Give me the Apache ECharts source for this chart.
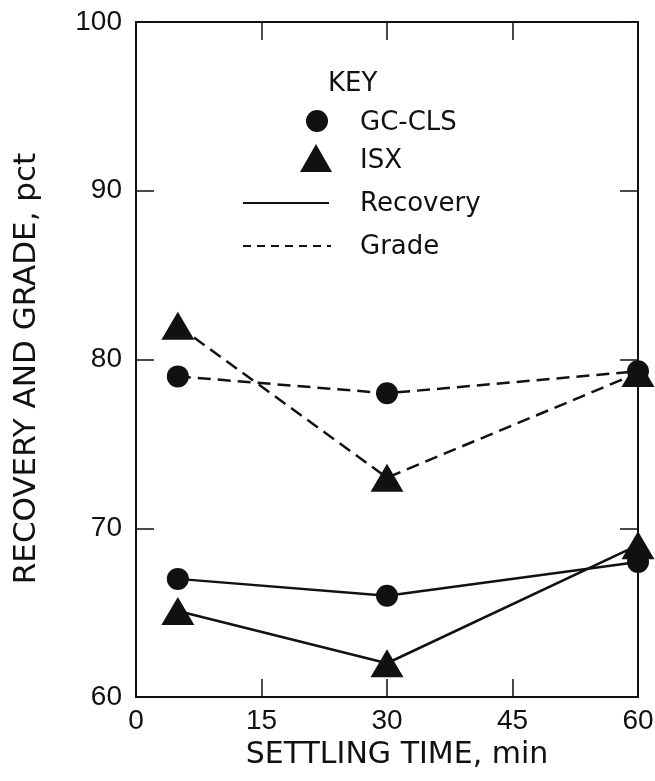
<!DOCTYPE html>
<html>
<head>
<meta charset="utf-8">
<title>Recovery and grade vs settling time</title>
<script src="https://cdn.jsdelivr.net/npm/echarts@6.0.0/dist/echarts.min.js"></script>
<style>
  html, body { margin: 0; padding: 0; background: #fff; }
  #chart { width: 655px; height: 781px; }
</style>
</head>
<body>
<div id="chart"></div>
<script>
// ----------------------
// Dados
// ----------------------
const settlingTime = [5, 30, 60];
const gcclsGrade = [79, 78, 79.3];
const isxGrade = [82, 73, 79.2];
const gcclsRecovery = [67, 66, 68];
const isxRecovery = [65.1, 62, 69];

const xTicks = [0, 15, 30, 45, 60];
const yTicks = [60, 70, 80, 90, 100];

const INK = '#111';
const FONT = '"Liberation Sans", Arial, Helvetica, sans-serif';
const WIDE = '"DejaVu Sans", Verdana, sans-serif';   // títulos e legenda (texto mais espaçado)

// pares [x, y] para o eixo de valores
const pairs = ys => settlingTime.map((t, i) => [t, ys[i]]);

function lineSeries(name, ys, symbol, size, dashed) {
  return {
    name: name,
    type: 'line',
    data: pairs(ys),
    symbol: symbol,
    symbolSize: size,
    clip: false,
    lineStyle: { color: INK, width: 2.5, type: dashed ? [13, 7] : 'solid' },
    itemStyle: { color: INK },
    z: 3
  };
}

function axisCommon() {
  return {
    axisLine: { show: true, onZero: false, lineStyle: { color: INK, width: 2 } },
    axisTick: { show: true, inside: true, length: 18, lineStyle: { color: INK, width: 1.5 } },
    splitLine: { show: false }
  };
}

// ----------------------
// Gráfico
// ----------------------
function initChart() {
  const chart = echarts.init(document.getElementById('chart'));
  const xMin = xTicks[0], xMax = xTicks[xTicks.length - 1];
  const yMin = yTicks[0], yMax = yTicks[yTicks.length - 1];

  chart.setOption({
    animation: false,
    textStyle: { fontFamily: FONT },
    grid: { left: 136, right: 17, top: 22, bottom: 84, containLabel: false, outerBoundsMode: 'none' },
    xAxis: [
      Object.assign(axisCommon(), {
        type: 'value', position: 'bottom', min: xMin, max: xMax, interval: 15,
        name: 'SETTLING TIME, min', nameLocation: 'middle', nameGap: 38,
        nameTextStyle: { color: INK, fontSize: 30, fontFamily: WIDE, padding: [0, 0, 0, 20] },
        axisLabel: { color: INK, fontSize: 28, fontFamily: FONT, margin: 10,
          formatter: v => xTicks.includes(v) ? String(v) : '' }
      }),
      Object.assign(axisCommon(), {
        type: 'value', position: 'top', min: xMin, max: xMax, interval: 15,
        axisLabel: { show: false }
      })
    ],
    yAxis: [
      Object.assign(axisCommon(), {
        type: 'value', position: 'left', min: yMin, max: yMax, interval: 10,
        name: 'RECOVERY AND GRADE, pct', nameLocation: 'middle', nameGap: 94,
        nameTextStyle: { color: INK, fontSize: 31, fontFamily: WIDE, padding: [0, 18, 0, 0] },
        axisLabel: { color: INK, fontSize: 28, fontFamily: FONT, margin: 14,
          formatter: v => yTicks.includes(v) ? String(v) : '' }
      }),
      Object.assign(axisCommon(), {
        type: 'value', position: 'right', min: yMin, max: yMax, interval: 10,
        axisLabel: { show: false }
      })
    ],
    tooltip: { trigger: 'item' },
    series: [
      lineSeries('GC-CLS Grade', gcclsGrade, 'circle', 22, true),
      lineSeries('GC-CLS Recovery', gcclsRecovery, 'circle', 22, false),
      lineSeries('ISX Grade', isxGrade, 'triangle', [33, 28], true),
      lineSeries('ISX Recovery', isxRecovery, 'triangle', [33, 28], false)
    ],
    // legenda (KEY)
    graphic: [
      { type: 'text', left: 328, top: 71, style: { text: 'KEY', font: '26px ' + WIDE, fill: INK } },
      { type: 'circle', shape: { cx: 317, cy: 121, r: 11 }, style: { fill: INK } },
      { type: 'text', left: 360, top: 110, style: { text: 'GC-CLS', font: '26px ' + WIDE, fill: INK } },
      { type: 'polygon', shape: { points: [[316, 144], [332, 172], [300, 172]] }, style: { fill: INK } },
      { type: 'text', left: 360, top: 148, style: { text: 'ISX', font: '26px ' + WIDE, fill: INK } },
      { type: 'line', shape: { x1: 243, y1: 203, x2: 329, y2: 203 }, style: { stroke: INK, lineWidth: 2 } },
      { type: 'text', left: 360, top: 191, style: { text: 'Recovery', font: '26px ' + WIDE, fill: INK } },
      { type: 'line', shape: { x1: 243, y1: 246, x2: 331, y2: 246 }, style: { stroke: INK, lineWidth: 2, lineDash: [8, 6] } },
      { type: 'text', left: 360, top: 234, style: { text: 'Grade', font: '26px ' + WIDE, fill: INK } }
    ]
  });
  return chart;
}

const chart = initChart();
window.addEventListener('resize', () => chart.resize());
</script>
</body>
</html>
